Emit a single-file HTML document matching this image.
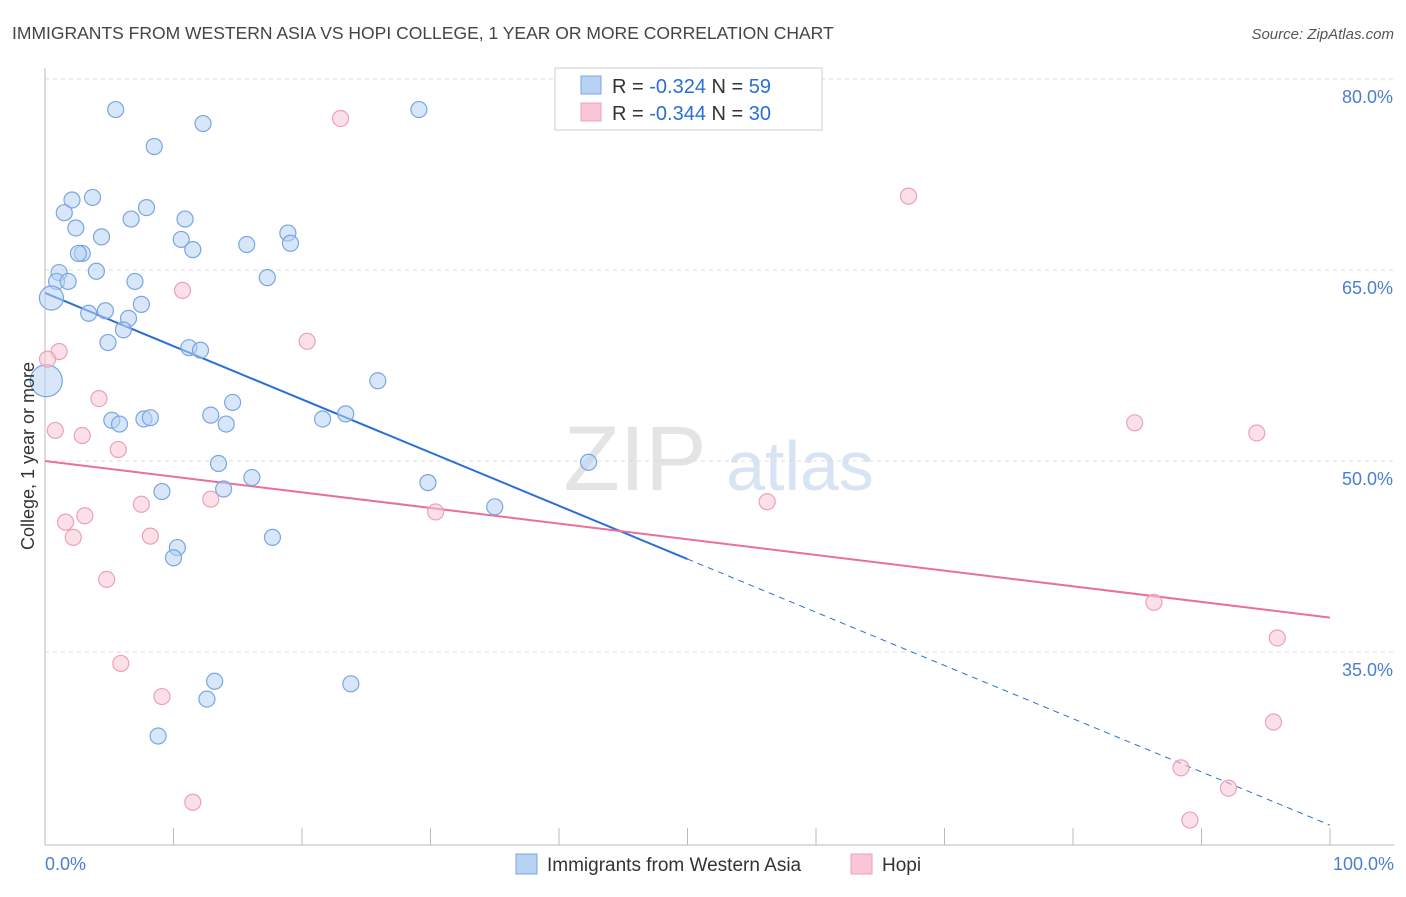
<!DOCTYPE html>
<html><head><meta charset="utf-8"><style>
body{margin:0;background:#fff;font-family:"Liberation Sans",sans-serif}
svg text{font-family:"Liberation Sans",sans-serif}
</style></head><body>
<svg id="chart" width="1406" height="892" viewBox="0 0 1406 892" xmlns="http://www.w3.org/2000/svg">
<text x="12" y="39" font-size="17.5" fill="#444">IMMIGRANTS FROM WESTERN ASIA VS HOPI COLLEGE, 1 YEAR OR MORE CORRELATION CHART</text>
<text x="1394" y="39" font-size="15" fill="#555" text-anchor="end" font-style="italic">Source: ZipAtlas.com</text>
<g>
<text x="635" y="490" font-size="92" fill="#e4e4e4" text-anchor="middle" font-family="Liberation Serif">ZIP</text>
<text x="800" y="490" font-size="70" fill="#d8e4f4" text-anchor="middle">atlas</text>
</g>
<g id="grid"></g>
<g id="axes"></g>
<g id="lines"></g>
<g id="points"></g>
<g>
<rect x="555" y="68" width="267" height="62" fill="#fff" stroke="#ccc"/>
<rect x="581" y="76" width="20" height="18" fill="#b8d2f4" stroke="#7aa6e0"/>
<text x="612" y="93" font-size="20" fill="#333">R = <tspan fill="#2a6fd6">-0.324</tspan>   N = <tspan fill="#2a6fd6">59</tspan></text>
<rect x="581" y="103" width="20" height="18" fill="#f9c6d6" stroke="#eea0b8"/>
<text x="612" y="120" font-size="20" fill="#333">R = <tspan fill="#2a6fd6">-0.344</tspan>   N = <tspan fill="#2a6fd6">30</tspan></text>
</g>
<g>
<rect x="516" y="854" width="21" height="20" fill="#b8d2f4" stroke="#7aa6e0"/>
<text x="547" y="871" font-size="19" fill="#333">Immigrants from Western Asia</text>
<rect x="851" y="854" width="21" height="20" fill="#f9c6d6" stroke="#eea0b8"/>
<text x="882" y="871" font-size="19" fill="#333">Hopi</text>
</g>
<text transform="translate(34,456) rotate(-90)" font-size="18" fill="#333" text-anchor="middle">College, 1 year or more</text>
</svg>
<script>
const yTicks=[80,65,50,35];
const yTickLabels=["80.0%","65.0%","50.0%","35.0%"];
const xTickLabels=["0.0%","100.0%"];
const blueX=[5.5,12.3,29.1,8.5,2.1,3.7,1.5,7.9,6.7,10.9,2.4,4.4,10.6,11.5,15.7,18.9,19.1,2.9,2.6,4.0,1.1,0.9,1.8,7.0,17.3,0.5,7.5,3.4,4.7,6.5,6.1,4.9,11.2,12.1,0.1,25.9,14.6,5.2,5.8,7.7,8.2,12.9,14.1,21.6,23.4,13.5,16.1,42.3,29.8,9.1,13.9,35.0,17.7,10.3,10.0,13.2,12.6,23.8,8.8];
const blueY=[77.6,76.5,77.6,74.7,70.5,70.7,69.5,69.9,69.0,69.0,68.3,67.6,67.4,66.6,67.0,67.9,67.1,66.3,66.3,64.9,64.8,64.1,64.1,64.1,64.4,62.8,62.3,61.6,61.8,61.2,60.3,59.3,58.9,58.7,56.3,56.3,54.6,53.2,52.9,53.3,53.4,53.6,52.9,53.3,53.7,49.8,48.7,49.9,48.3,47.6,47.8,46.4,44.0,43.2,42.4,32.7,31.3,32.5,28.4];
const blueR=[8,8,8,8,8,8,8,8,8,8,8,8,8,8,8,8,8,8,8,8,8,8,8,8,8,12,8,8,8,8,8,8,8,8,16,8,8,8,8,8,8,8,8,8,8,8,8,8,8,8,8,8,8,8,8,8,8,8,8];
const pinkX=[23.0,67.2,10.7,20.4,1.1,0.2,4.2,0.8,2.9,5.7,84.8,94.3,7.5,12.9,56.2,30.4,3.1,1.6,2.2,8.2,4.8,86.3,95.9,5.9,9.1,95.6,88.4,92.1,11.5,89.1];
const pinkY=[76.9,70.8,63.4,59.4,58.6,58.0,54.9,52.4,52.0,50.9,53.0,52.2,46.6,47.0,46.8,46.0,45.7,45.2,44.0,44.1,40.7,38.9,36.1,34.1,31.5,29.5,25.9,24.3,23.2,21.8];
const blueFit=[63.2,-0.418]; // intercept, slope
const pinkFit=[50.0,-0.123];
const blueSolidEnd=50;
const NS="http://www.w3.org/2000/svg";
const X0=45,X1=1330,Y80=79,PXP=12.733;
const xs=v=>X0+(X1-X0)*v/100;
const ys=v=>Y80+(80-v)*PXP;
function mk(t,a,p){const e=document.createElementNS(NS,t);for(const k in a)e.setAttribute(k,a[k]);document.getElementById(p).appendChild(e);return e;}
yTicks.forEach((t,i)=>{
 const g=mk('line',{x1:X0,x2:1394,y1:ys(t),y2:ys(t),stroke:'#ddd','stroke-dasharray':'4,4'},'grid');
 
 
 const l=mk('text',{x:1393,y:ys(t)+24,'font-size':18,fill:'#4a7fd0','text-anchor':'end'},'grid');
 l.textContent=yTickLabels[i];
 
 
});
let ax=mk('line',{x1:X0,x2:X0,y1:68,y2:845,stroke:'#bbb'},'axes');


ax=mk('line',{x1:X0,x2:1394,y1:845,y2:845,stroke:'#bbb'},'axes');


for(let i=1;i<=10;i++){const t=mk('line',{x1:xs(i*10),x2:xs(i*10),y1:828,y2:845,stroke:'#bbb'},'axes');
 
 }
[[0,'start',X0],[1,'end',1394]].forEach(([i,a,x])=>{const t=mk('text',{x:x,y:870,'font-size':18,fill:'#4a7fd0','text-anchor':a},'axes');t.textContent=xTickLabels[i];
 
 });
function pts(X,Y,R,fill,stroke,name){X.forEach((x,i)=>{const c=mk('circle',{cx:xs(x),cy:ys(Y[i]),r:R?R[i]:8,fill:fill,'fill-opacity':0.55,stroke:stroke,'stroke-width':1.2},'points');
 
 });}
pts(blueX,blueY,blueR,'#b8d2f4','#7aa6e0','western-asia-point');
pts(pinkX,pinkY,null,'#f9c6d6','#eea0b8','hopi-point');
const fy=(f,x)=>f[0]+f[1]*x;
let l=mk('line',{x1:xs(0),y1:ys(fy(blueFit,0)),x2:xs(blueSolidEnd),y2:ys(fy(blueFit,blueSolidEnd)),stroke:'#2a6fd6','stroke-width':2},'lines');


l=mk('line',{x1:xs(blueSolidEnd),y1:ys(fy(blueFit,blueSolidEnd)),x2:xs(100),y2:ys(fy(blueFit,100)),stroke:'#2a6fd6','stroke-width':1,'stroke-dasharray':'6,5'},'lines');


l=mk('line',{x1:xs(0),y1:ys(fy(pinkFit,0)),x2:xs(100),y2:ys(fy(pinkFit,100)),stroke:'#e8709a','stroke-width':2},'lines');


</script>
</body></html>
